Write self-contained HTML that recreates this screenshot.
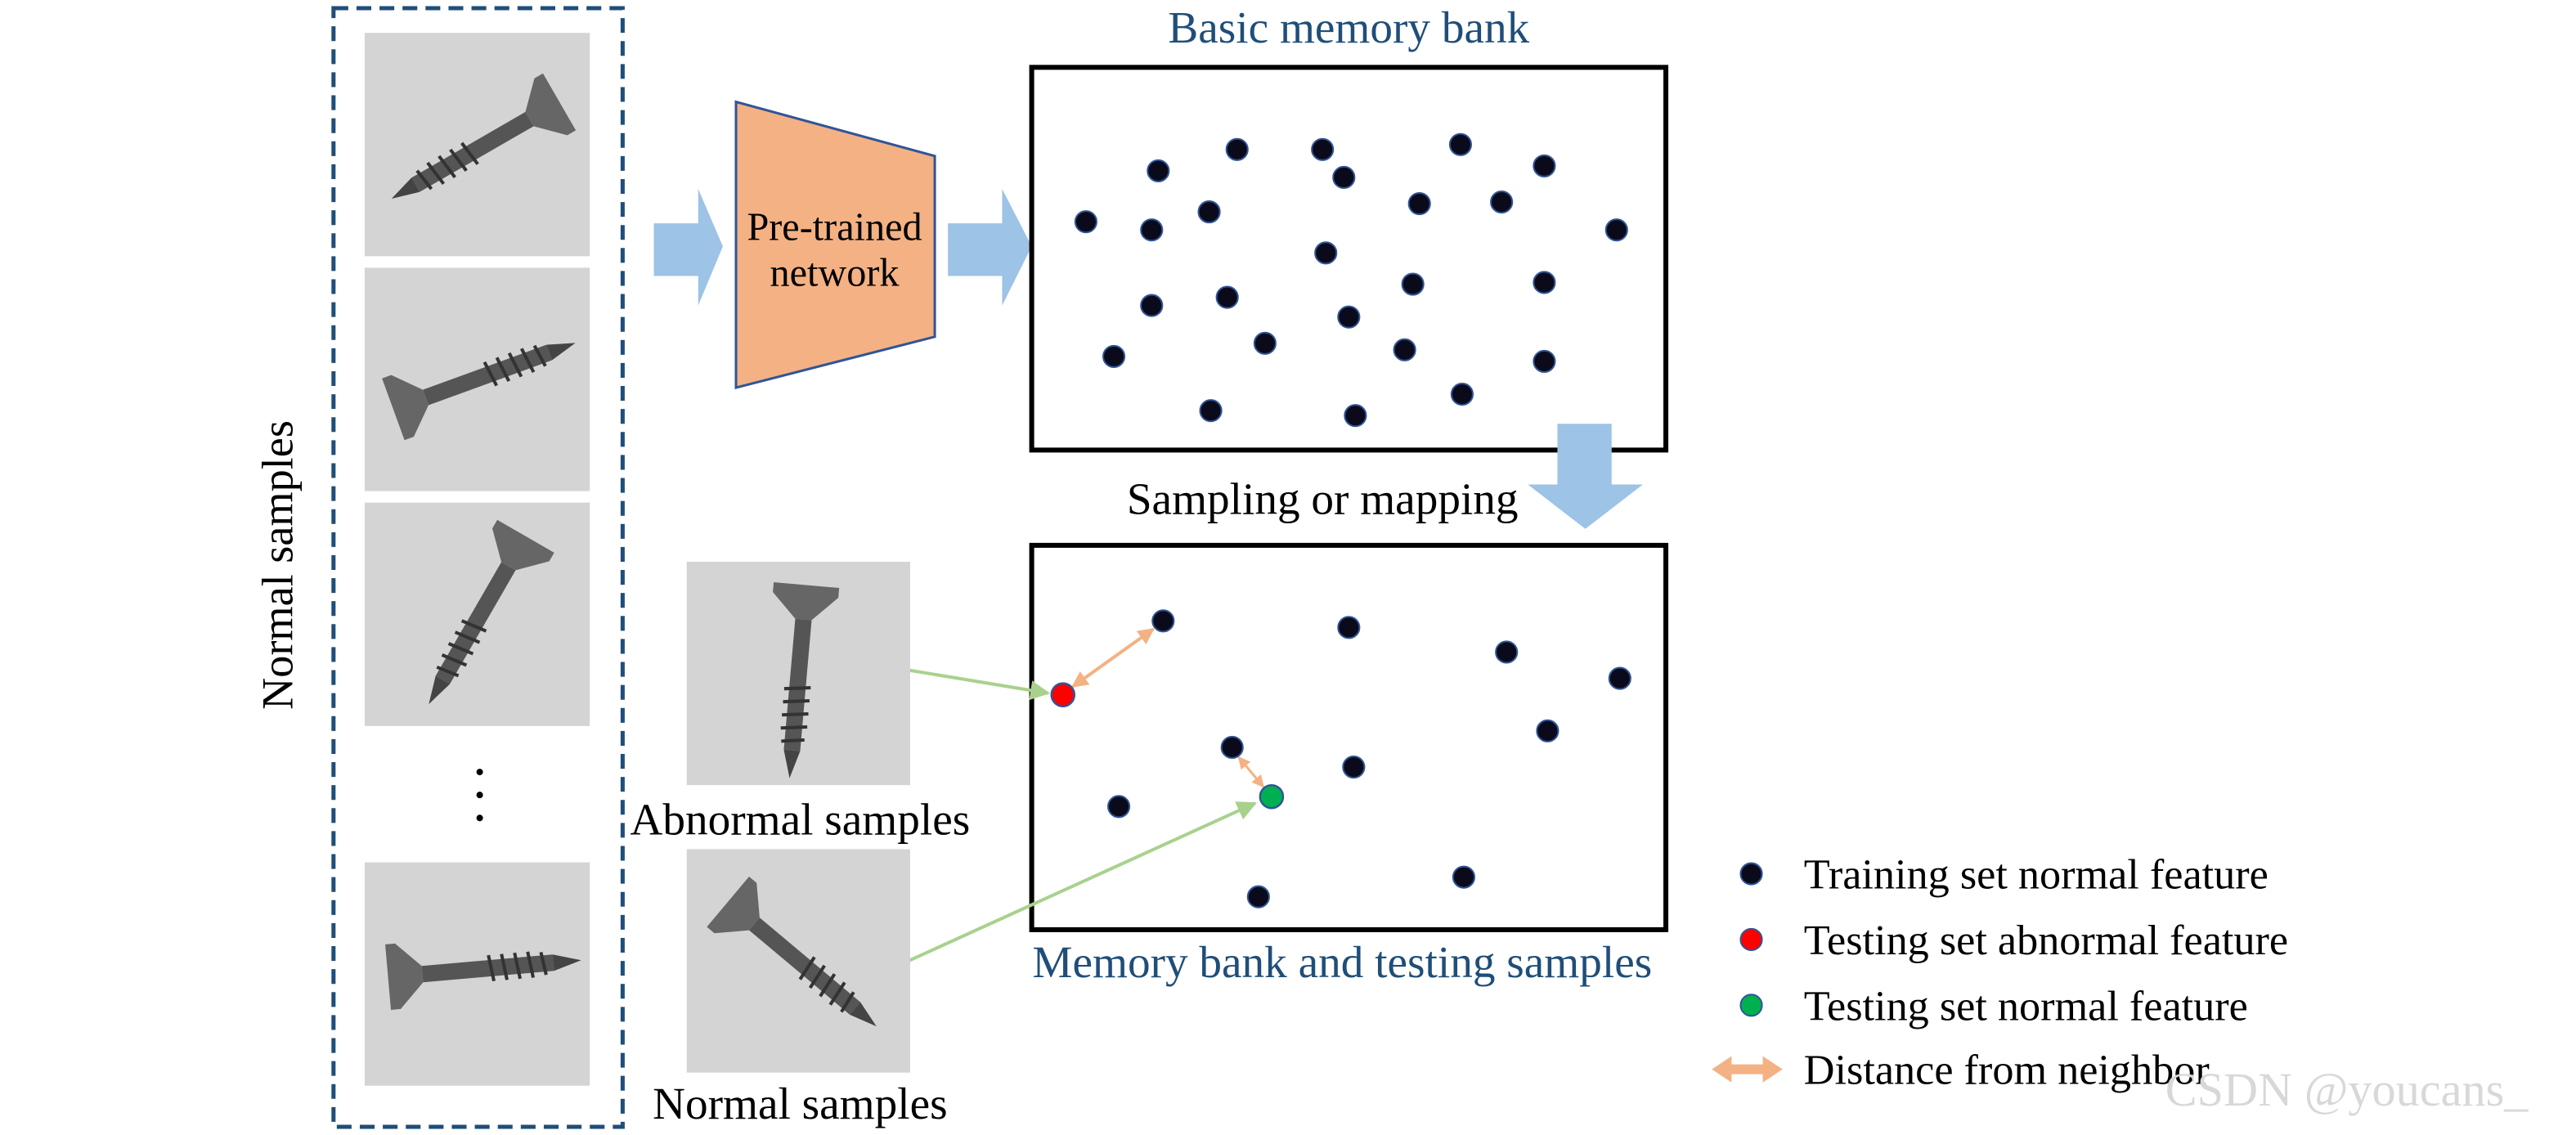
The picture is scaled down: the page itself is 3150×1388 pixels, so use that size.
<!DOCTYPE html>
<html><head><meta charset="utf-8"><style>
html,body{margin:0;padding:0;background:#fff;}
svg{display:block;}
text{font-family:"Liberation Serif",serif;}
</style></head><body>
<svg width="3150" height="1388" viewBox="0 0 1568 691" preserveAspectRatio="none" xmlns="http://www.w3.org/2000/svg">
<defs>
<g id="screw">
  <rect x="-45" y="-5" width="80" height="10" fill="#555"/>
  <path d="M-45,-5 L-62,0 L-45,5 Z" fill="#444"/>
  <g stroke="#333" stroke-width="2">
    <line x1="-40" y1="-7" x2="-38" y2="7"/><line x1="-32" y1="-8" x2="-30" y2="8"/>
    <line x1="-24" y1="-8" x2="-22" y2="8"/><line x1="-16" y1="-8" x2="-14" y2="8"/>
    <line x1="-8" y1="-8" x2="-6" y2="8"/>
  </g>
  <path d="M35,-5 L50,-20 L56,-20 L56,20 L50,20 L35,5 Z" fill="#666"/>
</g>
<marker id="oa" viewBox="0 0 10 10" refX="9" refY="5" markerWidth="5" markerHeight="5" orient="auto-start-reverse"><path d="M0,0 L10,5 L0,10 Z" fill="#f4b183"/></marker>
<marker id="ga" viewBox="0 0 10 10" refX="9" refY="5" markerWidth="6" markerHeight="6" orient="auto"><path d="M0,0 L10,5 L0,10 Z" fill="#a9d18e"/></marker>
</defs>

<rect x="203" y="5" width="176" height="681" fill="none" stroke="#1f4e79" stroke-width="2.5" stroke-dasharray="9,5"/>
<rect x="222" y="20" width="137" height="136" fill="#d4d4d4"/>
<rect x="222" y="163" width="137" height="136" fill="#d4d4d4"/>
<rect x="222" y="306" width="137" height="136" fill="#d4d4d4"/>
<rect x="222" y="525" width="137" height="136" fill="#d4d4d4"/>
<use href="#screw" transform="translate(292,90) rotate(-30)"/>
<use href="#screw" transform="translate(292,230) rotate(160)"/>
<use href="#screw" transform="translate(292,375) rotate(-60)"/>
<use href="#screw" transform="translate(292,590) rotate(175)"/>
<circle cx="292" cy="470" r="2" fill="#000"/><circle cx="292" cy="484" r="2" fill="#000"/><circle cx="292" cy="498" r="2" fill="#000"/>
<text x="178" y="344" font-size="27" text-anchor="middle" transform="rotate(-90 178 344)">Normal samples</text>

<path d="M398,136 L425,136 L425,115 L440,150 L425,186 L425,168 L398,168 Z" fill="#9dc3e6"/>
<polygon points="448,62 569,95 569,205 448,236" fill="#f4b183" stroke="#2f5597" stroke-width="1.5"/>
<text x="508" y="146" font-size="24" text-anchor="middle">Pre-trained</text>
<text x="508" y="174" font-size="24" text-anchor="middle">network</text>
<path d="M577,136 L610,136 L610,115 L628,150 L610,186 L610,168 L577,168 Z" fill="#9dc3e6"/>

<text x="821" y="26" font-size="27.5" fill="#1f4e79" text-anchor="middle">Basic memory bank</text>
<rect x="628" y="41" width="386" height="233" fill="none" stroke="#000" stroke-width="3"/>
<g fill="#0a0a1a" stroke="#2f5597" stroke-width="1">
<circle cx="705" cy="104" r="6.5"/><circle cx="753" cy="91" r="6.5"/><circle cx="805" cy="91" r="6.5"/><circle cx="818" cy="108" r="6.5"/><circle cx="889" cy="88" r="6.5"/><circle cx="940" cy="101" r="6.5"/><circle cx="661" cy="135" r="6.5"/><circle cx="701" cy="140" r="6.5"/><circle cx="736" cy="129" r="6.5"/><circle cx="864" cy="124" r="6.5"/><circle cx="914" cy="123" r="6.5"/><circle cx="984" cy="140" r="6.5"/><circle cx="807" cy="154" r="6.5"/><circle cx="701" cy="186" r="6.5"/><circle cx="747" cy="181" r="6.5"/><circle cx="860" cy="173" r="6.5"/><circle cx="940" cy="172" r="6.5"/><circle cx="821" cy="193" r="6.5"/><circle cx="770" cy="209" r="6.5"/><circle cx="678" cy="217" r="6.5"/><circle cx="855" cy="213" r="6.5"/><circle cx="940" cy="220" r="6.5"/><circle cx="737" cy="250" r="6.5"/><circle cx="825" cy="253" r="6.5"/><circle cx="890" cy="240" r="6.5"/>
</g>
<path d="M948,258 L981,258 L981,295 L1000,295 L965,322 L930,295 L948,295 Z" fill="#9dc3e6"/>
<text x="805" y="313" font-size="27.5" text-anchor="middle">Sampling or mapping</text>

<rect x="628" y="332" width="386" height="234" fill="none" stroke="#000" stroke-width="3"/>
<line x1="653" y1="418" x2="702" y2="383" stroke="#f4b183" stroke-width="2" marker-start="url(#oa)" marker-end="url(#oa)"/>
<line x1="754" y1="461" x2="769" y2="479" stroke="#f4b183" stroke-width="1.5" marker-start="url(#oa)" marker-end="url(#oa)"/>
<line x1="553" y1="408" x2="638" y2="422" stroke="#a9d18e" stroke-width="2" marker-end="url(#ga)"/>
<line x1="553" y1="585" x2="764" y2="489" stroke="#a9d18e" stroke-width="2" marker-end="url(#ga)"/>
<g fill="#0a0a1a" stroke="#2f5597" stroke-width="1">
<circle cx="708" cy="378" r="6.5"/><circle cx="821" cy="382" r="6.5"/><circle cx="917" cy="397" r="6.5"/><circle cx="986" cy="413" r="6.5"/><circle cx="942" cy="445" r="6.5"/><circle cx="750" cy="455" r="6.5"/><circle cx="824" cy="467" r="6.5"/><circle cx="681" cy="491" r="6.5"/><circle cx="766" cy="546" r="6.5"/><circle cx="891" cy="534" r="6.5"/>
</g>
<circle cx="647" cy="423" r="7" fill="#ff0000" stroke="#2f5597" stroke-width="1.2"/>
<circle cx="774" cy="485" r="7" fill="#00b050" stroke="#2f5597" stroke-width="1.2"/>
<text x="817" y="595" font-size="27.5" fill="#1f4e79" text-anchor="middle">Memory bank and testing samples</text>

<rect x="418" y="342" width="136" height="136" fill="#d4d4d4"/>
<use href="#screw" transform="translate(486,412) rotate(-85)"/>
<text x="487" y="508" font-size="27.5" text-anchor="middle">Abnormal samples</text>
<rect x="418" y="517" width="136" height="136" fill="#d4d4d4"/>
<use href="#screw" transform="translate(486,585) rotate(-140)"/>
<text x="487" y="681" font-size="27.5" text-anchor="middle">Normal samples</text>

<g fill="#0a0a1a" stroke="#2f5597" stroke-width="1"><circle cx="1066" cy="532" r="6.5"/></g>
<circle cx="1066" cy="572" r="6.5" fill="#ff0000" stroke="#2f5597" stroke-width="1"/>
<circle cx="1066" cy="612" r="6.5" fill="#00b050" stroke="#2f5597" stroke-width="1"/>
<path d="M1042,651 L1054,643 L1054,648 L1073,648 L1073,643 L1085,651 L1073,659 L1073,654 L1054,654 L1054,659 Z" fill="#f4b183"/>
<text x="1098" y="541" font-size="26">Training set normal feature</text>
<text x="1098" y="581" font-size="26">Testing set abnormal feature</text>
<text x="1098" y="621" font-size="26">Testing set normal feature</text>
<text x="1098" y="660" font-size="26">Distance from neighbor</text>
<text x="1318" y="673" font-size="29" fill="#d8d8d8" font-family="Liberation Sans, sans-serif">CSDN @youcans_</text>
</svg>
</body></html>
